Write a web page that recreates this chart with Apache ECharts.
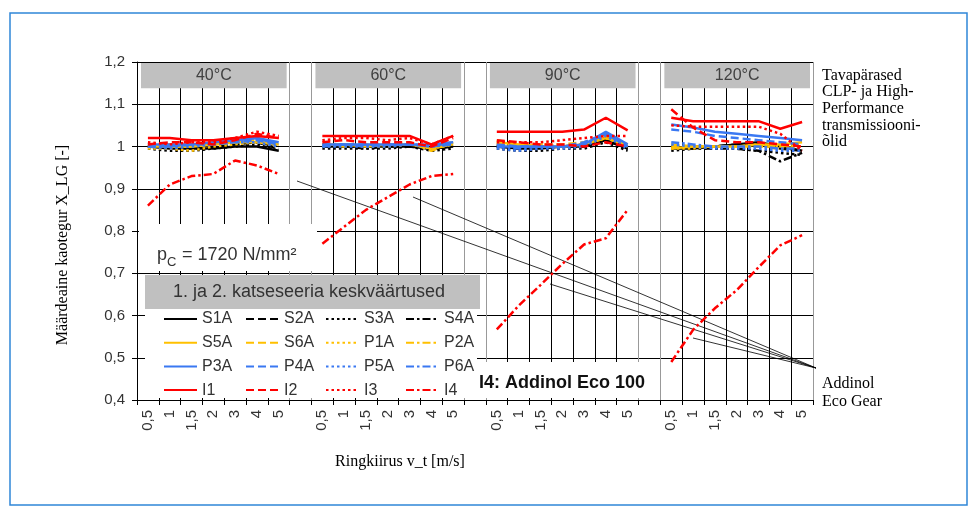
<!DOCTYPE html>
<html>
<head>
<meta charset="utf-8">
<script src="https://cdn.jsdelivr.net/npm/echarts@6/dist/echarts.min.js"></script>
<style>
  html, body { margin: 0; padding: 0; background: #fff; }
  #chart { width: 978px; height: 510px; }
</style>
</head>
<body>
<div id="chart"></div>
<script>
// kategooriad: 4 temperatuuri, igaühes 7 ringkiirust (m/s)
const panels = ['40°C', '60°C', '90°C', '120°C'];
const speeds = ['0,5', '1', '1,5', '2', '3', '4', '5'];
const yTicks = [0.4, 0.5, 0.6, 0.7, 0.8, 0.9, 1.0, 1.1, 1.2];

// väärtused: 7 tk paneeli kohta (40, 60, 90, 120 °C)
const S1A = [1.00, 0.995, 0.995, 0.995, 1.00, 1.00, 0.99,   1.00, 1.00, 1.00, 1.00, 1.00, 0.995, 1.00,   1.00, 0.995, 0.995, 1.00, 1.00, 1.015, 0.995,   0.995, 0.995, 1.00, 1.005, 1.01, 1.00, 0.99];
const S2A = [1.00, 1.00, 0.995, 1.00, 1.005, 1.01, 0.995,   1.00, 1.00, 1.00, 1.00, 1.00, 0.995, 1.00,   1.005, 1.00, 1.00, 1.00, 1.00, 1.02, 1.00,   1.00, 1.00, 1.00, 1.005, 1.005, 0.995, 0.99];
const S3A = [0.995, 0.99, 0.99, 0.995, 1.00, 1.005, 0.99,   0.995, 0.995, 0.995, 0.995, 1.00, 0.99, 0.995,   0.995, 0.99, 0.99, 0.995, 0.995, 1.01, 0.99,   0.99, 0.995, 0.995, 0.995, 0.99, 0.985, 0.98];
const S4A = [1.00, 1.00, 1.00, 1.005, 1.01, 1.01, 1.00,   1.00, 1.00, 0.995, 1.00, 1.00, 0.995, 1.00,   1.00, 0.995, 1.00, 1.00, 1.005, 1.015, 0.995,   1.00, 0.995, 0.995, 0.995, 0.99, 0.965, 0.985];
const S5A = [1.00, 1.00, 1.00, 1.005, 1.01, 1.01, 1.005,   1.005, 1.005, 1.00, 1.005, 1.005, 0.995, 1.005,   1.01, 1.005, 1.00, 1.00, 1.005, 1.02, 1.005,   0.995, 1.00, 1.00, 1.00, 1.005, 1.005, 1.01];
const S6A = [1.005, 1.00, 1.00, 1.005, 1.01, 1.015, 1.005,   1.005, 1.005, 1.005, 1.005, 1.01, 0.99, 1.01,   1.015, 1.005, 1.005, 1.005, 1.01, 1.025, 1.005,   1.005, 1.00, 1.00, 1.00, 1.00, 1.00, 1.005];
const P1A = [0.995, 0.995, 0.99, 1.00, 1.005, 1.01, 1.00,   1.00, 1.005, 1.00, 1.00, 1.005, 0.995, 1.005,   1.005, 1.00, 1.00, 1.00, 1.005, 1.02, 1.00,   0.995, 0.995, 1.00, 1.00, 1.005, 1.00, 1.00];
const P2A = [1.00, 1.005, 1.00, 1.005, 1.01, 1.015, 1.005,   1.005, 1.00, 1.005, 1.005, 1.005, 1.00, 1.01,   1.01, 1.00, 1.005, 1.00, 1.005, 1.02, 1.005,   1.00, 1.00, 1.00, 1.00, 1.00, 0.995, 1.00];
const P3A = [1.005, 1.005, 1.005, 1.01, 1.015, 1.02, 1.01,   1.005, 1.005, 1.005, 1.005, 1.005, 1.005, 1.01,   1.00, 1.00, 1.00, 1.00, 1.005, 1.035, 1.005,   1.052, 1.045, 1.035, 1.03, 1.025, 1.02, 1.015];
const P4A = [1.00, 1.00, 1.005, 1.005, 1.01, 1.015, 1.005,   1.00, 1.005, 1.005, 1.005, 1.005, 1.00, 1.005,   1.005, 1.00, 1.00, 1.00, 1.01, 1.03, 1.00,   1.04, 1.035, 1.025, 1.02, 1.015, 1.01, 1.005];
const P5A = [1.00, 0.995, 1.00, 1.005, 1.01, 1.01, 1.00,   1.00, 1.00, 1.00, 1.00, 1.005, 1.00, 1.005,   0.995, 0.99, 0.995, 0.995, 1.00, 1.025, 0.995,   1.005, 1.00, 0.995, 0.995, 0.995, 0.99, 0.99];
const P6A = [1.00, 1.00, 1.005, 1.01, 1.015, 1.02, 1.005,   1.005, 1.005, 1.00, 1.005, 1.005, 1.00, 1.01,   1.00, 0.995, 1.00, 1.00, 1.005, 1.03, 1.00,   1.01, 1.005, 1.00, 1.00, 1.00, 0.995, 0.995];
const I1  = [1.02, 1.02, 1.015, 1.015, 1.02, 1.025, 1.02,   1.025, 1.025, 1.025, 1.025, 1.025, 1.005, 1.025,   1.035, 1.035, 1.035, 1.035, 1.04, 1.068, 1.038,   1.068, 1.06, 1.06, 1.06, 1.06, 1.042, 1.058];
const I2  = [1.005, 1.01, 1.01, 1.005, 1.015, 1.03, 1.02,   1.01, 1.015, 1.01, 1.01, 1.01, 1.00, 1.02,   1.015, 1.01, 1.005, 1.005, 1.00, 1.01, 1.00,   1.088, 1.045, 1.015, 1.01, 1.01, 1.005, 1.00];
const I3  = [1.01, 1.005, 1.01, 1.01, 1.02, 1.035, 1.025,   1.015, 1.02, 1.02, 1.015, 1.02, 1.005, 1.025,   1.01, 1.01, 1.01, 1.015, 1.02, 1.025, 1.025,   1.05, 1.047, 1.047, 1.047, 1.047, 1.03, 0.99];
const I4  = [0.86, 0.91, 0.93, 0.935, 0.967, 0.955, 0.935,   0.77, 0.81, 0.85, 0.88, 0.91, 0.93, 0.935,   0.567, 0.623, 0.672, 0.722, 0.768, 0.783, 0.85,   0.49, 0.566, 0.617, 0.66, 0.714, 0.766, 0.79];

const BLACK = '#000000', YELLOW = '#ffc000', BLUE = '#3a78f2', RED = '#ff0000';
const DASH = [8, 4], DOT = [2.5, 3], DASHDOT = [8, 3, 2.5, 3];

const seriesList = [
  ['S1A', S1A, BLACK, 'solid'], ['S2A', S2A, BLACK, DASH], ['S3A', S3A, BLACK, DOT], ['S4A', S4A, BLACK, DASHDOT],
  ['S5A', S5A, YELLOW, 'solid'], ['S6A', S6A, YELLOW, DASH], ['P1A', P1A, YELLOW, DOT], ['P2A', P2A, YELLOW, DASHDOT],
  ['P3A', P3A, BLUE, 'solid'], ['P4A', P4A, BLUE, DASH], ['P5A', P5A, BLUE, DOT], ['P6A', P6A, BLUE, DASHDOT],
  ['I1', I1, RED, 'solid'], ['I2', I2, RED, DASH], ['I3', I3, RED, DOT], ['I4', I4, RED, DASHDOT],
];

// x-telje kategooriad, paneelide vahel üks tühi lahter
let categories = [];
panels.forEach(function (p, k) {
  speeds.forEach(function (s) { categories.push(p + '|' + s); });
  if (k < panels.length - 1) categories.push('gap' + k);
});

function spread(vals) {
  let out = [];
  for (let k = 0; k < panels.length; k++) {
    out = out.concat(vals.slice(k * 7, k * 7 + 7));
    if (k < panels.length - 1) out.push(null);
  }
  return out;
}

let dom = document.getElementById('chart');
let chart = echarts.init(dom, null, { renderer: 'canvas' });

const GRID = { left: 137, right: 165, top: 62, bottom: 110 };

function legendCol(names, left) {
  return {
    data: names,
    orient: 'vertical',
    left: left,
    top: 306,
    itemWidth: 33,
    itemHeight: 14,
    itemGap: 7.7,
    selectedMode: false,
    itemStyle: { opacity: 0 },
    textStyle: { fontFamily: 'Arial, Liberation Sans', fontSize: 16, color: '#333', lineHeight: 16 },
  };
}

let option = {
  animation: false,
  backgroundColor: '#fff',
  grid: Object.assign({ outerBoundsMode: 'none' }, GRID),
  legend: [
    legendCol(['S1A', 'S5A', 'P3A', 'I1'], 158),
    legendCol(['S2A', 'S6A', 'P4A', 'I2'], 240),
    legendCol(['S3A', 'P1A', 'P5A', 'I3'], 320),
    legendCol(['S4A', 'P2A', 'P6A', 'I4'], 400),
  ],
  xAxis: {
    type: 'category',
    data: categories,
    boundaryGap: true,
    axisLine: { lineStyle: { color: '#000', width: 1 } },
    axisTick: { show: true, interval: 0, length: 5, lineStyle: { color: '#000' } },
    axisLabel: {
      interval: 0,
      rotate: 90,
      margin: 10,
      fontFamily: 'Arial, Liberation Sans',
      fontSize: 15,
      color: '#333',
      formatter: function (v) { return v.indexOf('|') >= 0 ? v.split('|')[1] : ''; },
    },
    splitLine: {
      show: true,
      interval: 0,
      lineStyle: { color: ['#999', '#000', '#000', '#000', '#000', '#000', '#000', '#999'], width: 1 },
    },
  },
  yAxis: {
    type: 'value',
    min: yTicks[0],
    max: yTicks[yTicks.length - 1],
    interval: 0.1,
    axisLine: { show: true, lineStyle: { color: '#000', width: 1 } },
    axisTick: { show: true, length: 5, lineStyle: { color: '#000' } },
    axisLabel: {
      margin: 12,
      fontFamily: 'Arial, Liberation Sans',
      fontSize: 15,
      color: '#333',
      formatter: function (v) {
        let r = Math.round(v * 10) / 10;
        return r === 1 ? '1' : r.toFixed(1).replace('.', ',');
      },
    },
    splitLine: { show: true, lineStyle: { color: '#000', width: 1 } },
  },
  series: seriesList.map(function (s) {
    return {
      name: s[0],
      type: 'line',
      data: spread(s[1]),
      symbol: 'none',
      connectNulls: false,
      color: s[2],
      lineStyle: { color: s[2], width: 2.5, type: s[3] },
      emphasis: { disabled: true },
    };
  }),
};

chart.setOption(option);

// kaunistused: pealkirjakastid, legendikast, märkused
function px(i) { return chart.convertToPixel({ xAxisIndex: 0 }, i); }
function py(v) { return chart.convertToPixel({ yAxisIndex: 0 }, v); }
let band = px(1) - px(0);
let g = [];

g.push({ type: 'rect', shape: { x: 10, y: 13, width: 957, height: 492 }, style: { fill: 'none', stroke: '#2f86d8', lineWidth: 1.5 }, z: 1 });

panels.forEach(function (p, k) {
  let x0 = px(k * 8) - band / 2 + 4;
  let x1 = px(k * 8 + 6) + band / 2 - 3;
  let y0 = py(1.2) + 1;
  let y1 = py(1.138);
  g.push({ type: 'rect', shape: { x: x0, y: y0, width: x1 - x0, height: y1 - y0 }, style: { fill: '#c0c0c0' }, z: 1 });
  g.push({ type: 'text', x: (x0 + x1) / 2, y: (y0 + y1) / 2, style: { text: p, fill: '#404040', font: '16px Arial, Liberation Sans', align: 'center', verticalAlign: 'middle' }, z: 5 });
});

// p_C kast
g.push({ type: 'rect', shape: { x: 139, y: 224, width: 178, height: 47 }, style: { fill: '#fff' }, z: 1 });
g.push({ type: 'text', x: 157, y: 255, style: { text: 'p', fill: '#333', font: '18px Arial, Liberation Sans', verticalAlign: 'middle' }, z: 5 });
g.push({ type: 'text', x: 167, y: 262, style: { text: 'C', fill: '#333', font: '13px Arial, Liberation Sans', verticalAlign: 'middle' }, z: 5 });
g.push({ type: 'text', x: 182, y: 255, style: { text: '= 1720 N/mm²', fill: '#333', font: '18px Arial, Liberation Sans', verticalAlign: 'middle' }, z: 5 });

// legendi kast
g.push({ type: 'rect', shape: { x: 145, y: 275, width: 332, height: 123 }, style: { fill: '#fff' }, z: 1 });
g.push({ type: 'rect', shape: { x: 145, y: 275, width: 335, height: 34 }, style: { fill: '#c0c0c0' }, z: 1 });
g.push({ type: 'text', x: 309, y: 292, style: { text: '1. ja 2. katseseeria keskväärtused', fill: '#333', font: '18px Arial, Liberation Sans', align: 'center', verticalAlign: 'middle' }, z: 5 });

// I4 kast
g.push({ type: 'rect', shape: { x: 477, y: 362, width: 176, height: 36 }, style: { fill: '#fff' }, z: 1 });
g.push({ type: 'text', x: 479, y: 383, style: { text: 'I4: Addinol Eco 100', fill: '#111', font: 'bold 18px Arial, Liberation Sans', verticalAlign: 'middle' }, z: 5 });

// viitejooned
[[297, 181], [413, 197], [550, 284], [693, 338]].forEach(function (pt) {
  g.push({ type: 'line', shape: { x1: pt[0], y1: pt[1], x2: 816, y2: 368 }, style: { stroke: '#000', lineWidth: 0.8 }, z: 3 });
});

const SERIF = '16px "Liberation Serif", "DejaVu Serif", serif';
g.push({ type: 'text', x: 822, y: 67, style: { text: 'Tavapärased\nCLP- ja High-\nPerformance\ntransmissiooni-\nõlid', fill: '#000', font: SERIF, lineHeight: 16.7 }, z: 5 });
g.push({ type: 'text', x: 822, y: 375, style: { text: 'Addinol\nEco Gear', fill: '#000', font: SERIF, lineHeight: 18 }, z: 5 });
g.push({ type: 'text', x: 63, y: 245, rotation: Math.PI / 2, style: { text: 'Määrdeaine kaotegur X_LG [-]', fill: '#000', font: SERIF, align: 'center', verticalAlign: 'middle' }, z: 5 });
g.push({ type: 'text', x: 400, y: 462, style: { text: 'Ringkiirus v_t [m/s]', fill: '#000', font: SERIF, align: 'center', verticalAlign: 'middle' }, z: 5 });

chart.setOption({ graphic: g });

window.addEventListener('resize', chart.resize);
</script>
</body>
</html>
